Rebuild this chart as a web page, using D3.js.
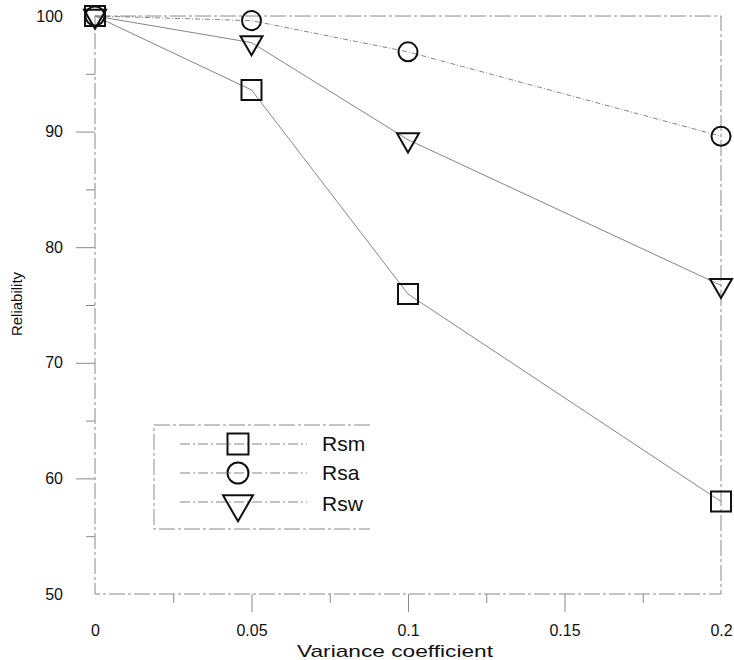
<!DOCTYPE html>
<html>
<head>
<meta charset="utf-8">
<script src="https://cdn.jsdelivr.net/npm/d3@7"></script>
<style>
  body { margin: 0; background: #fff; }
  svg { display: block; font-family: "Liberation Sans", Arial, sans-serif; }
</style>
</head>
<body>
<div id="chart"></div>
<script>
// Data
const xValues = [0, 0.05, 0.1, 0.2];
const rsm = [100, 93.6, 75.95, 58.0];
const rsa = [100, 99.6, 96.9, 89.6];
const rsw = [100, 97.7, 89.3, 76.7];
const seriesNames = ['Rsm', 'Rsa', 'Rsw'];
const xTickLabels = [0, 0.05, 0.1, 0.15, 0.2];
const yTickLabels = [50, 60, 70, 80, 90, 100];

const width = 734, height = 660;
const margin = { top: 16, right: 13, bottom: 66, left: 95 };

const svg = d3.select('#chart').append('svg')
    .attr('width', width)
    .attr('height', height);

const x = d3.scaleLinear().domain([0, 0.2]).range([margin.left, width - margin.right]);
const y = d3.scaleLinear().domain([50, 100]).range([height - margin.bottom, margin.top]);

const frameColor = '#8a8a8a';
const lineColor = '#858585';

// Frame (faint, scanned look)
svg.append('rect')
    .attr('x', x(0))
    .attr('y', y(100))
    .attr('width', x(0.2) - x(0))
    .attr('height', y(50) - y(100))
    .attr('fill', 'none')
    .attr('stroke', frameColor)
    .attr('stroke-width', 1)
    .attr('stroke-dasharray', '16,3,3,3');

// X axis: labels, major and minor ticks
const xLabels = svg.append('g')
    .attr('transform', `translate(0,${y(50)})`)
    .call(d3.axisBottom(x).tickValues(xTickLabels).tickSize(0).tickPadding(31)
        .tickFormat(d => d === 0 ? '0' : String(d)));
xLabels.select('.domain').remove();
xLabels.selectAll('text').attr('font-size', 16).attr('fill', '#111')
    .attr('font-family', '"Liberation Sans", Arial, sans-serif');

const xMajor = svg.append('g')
    .attr('transform', `translate(0,${y(50)})`)
    .call(d3.axisBottom(x).tickValues([0.05, 0.1, 0.15]).tickSize(18).tickFormat(''));
const xMinor = svg.append('g')
    .attr('transform', `translate(0,${y(50)})`)
    .call(d3.axisBottom(x).tickValues([0.025, 0.075, 0.125, 0.175]).tickSize(9).tickFormat(''));

// Y axis: labels, major and minor ticks
const yLabels = svg.append('g')
    .attr('transform', `translate(${x(0)},0)`)
    .call(d3.axisLeft(y).tickValues(yTickLabels).tickSize(0).tickPadding(32));
yLabels.select('.domain').remove();
yLabels.selectAll('text').attr('font-size', 16).attr('fill', '#111')
    .attr('font-family', '"Liberation Sans", Arial, sans-serif');

const yMajor = svg.append('g')
    .attr('transform', `translate(${x(0)},0)`)
    .call(d3.axisLeft(y).tickValues([60, 70, 80, 90]).tickSize(19).tickFormat(''));
const yMinor = svg.append('g')
    .attr('transform', `translate(${x(0)},0)`)
    .call(d3.axisLeft(y).tickValues([55, 65, 75, 85, 95]).tickSize(9).tickFormat(''));

[xMajor, xMinor, yMajor, yMinor].forEach(g => {
    g.select('.domain').remove();
    g.selectAll('line').attr('stroke', frameColor).attr('stroke-width', 1);
});

// Axis titles
svg.append('text')
    .attr('x', 297)
    .attr('y', 657)
    .attr('font-size', 17)
    .attr('textLength', 196)
    .attr('lengthAdjust', 'spacingAndGlyphs')
    .attr('fill', '#111')
    .text('Variance coefficient');

svg.append('text')
    .attr('transform', `translate(22,${(y(70) + y(80)) / 2 - 1}) rotate(-90)`)
    .attr('text-anchor', 'middle')
    .attr('font-size', 15)
    .attr('fill', '#111')
    .text('Reliability');

// Series
const series = [
    { name: seriesNames[0], values: rsm, symbol: d3.symbolSquare, size: 400, legendSize: 441, rotate: 0, dash: null },
    { name: seriesNames[1], values: rsa, symbol: d3.symbolCircle, size: 284, legendSize: 346, rotate: 0, dash: '5,2,1,2' },
    { name: seriesNames[2], values: rsw, symbol: d3.symbolTriangle, size: 210, legendSize: 390, rotate: 180, dash: null }
];

const line = d3.line()
    .x((d, i) => x(xValues[i]))
    .y(d => y(d));

series.forEach(s => {
    svg.append('path')
        .datum(s.values)
        .attr('d', line)
        .attr('fill', 'none')
        .attr('stroke', lineColor)
        .attr('stroke-width', 1)
        .attr('stroke-dasharray', s.dash);
});

series.forEach(s => {
    svg.append('g')
        .selectAll('path')
        .data(s.values)
        .join('path')
        .attr('transform', (d, i) => `translate(${x(xValues[i])},${y(d)}) rotate(${s.rotate})`)
        .attr('d', d3.symbol().type(s.symbol).size(s.size))
        .attr('fill', 'none')
        .attr('stroke', '#111')
        .attr('stroke-width', 2);
});

// Legend
const legend = svg.append('g');
legend.append('path')
    .attr('d', 'M370,425H154V529H370')
    .attr('fill', 'none')
    .attr('stroke', frameColor)
    .attr('stroke-width', 1)
    .attr('stroke-dasharray', '16,3,3,3');

const legendRows = [444, 473, 504];
series.forEach((s, i) => {
    const ly = legendRows[i];
    legend.append('line')
        .attr('x1', 180).attr('x2', 307)
        .attr('y1', i === 2 ? ly - 2 : ly).attr('y2', i === 2 ? ly - 2 : ly)
        .attr('stroke', lineColor)
        .attr('stroke-width', 1)
        .attr('stroke-dasharray', '10,3,2,3');
    legend.append('path')
        .attr('transform', `translate(238,${ly}) rotate(${s.rotate})`)
        .attr('d', d3.symbol().type(s.symbol).size(s.legendSize))
        .attr('fill', 'none')
        .attr('stroke', '#111')
        .attr('stroke-width', 2);
    legend.append('text')
        .attr('x', 322)
        .attr('y', ly)
        .attr('dy', '0.35em')
        .attr('font-size', 21)
        .attr('fill', '#111')
        .text(s.name);
});
</script>
</body>
</html>
